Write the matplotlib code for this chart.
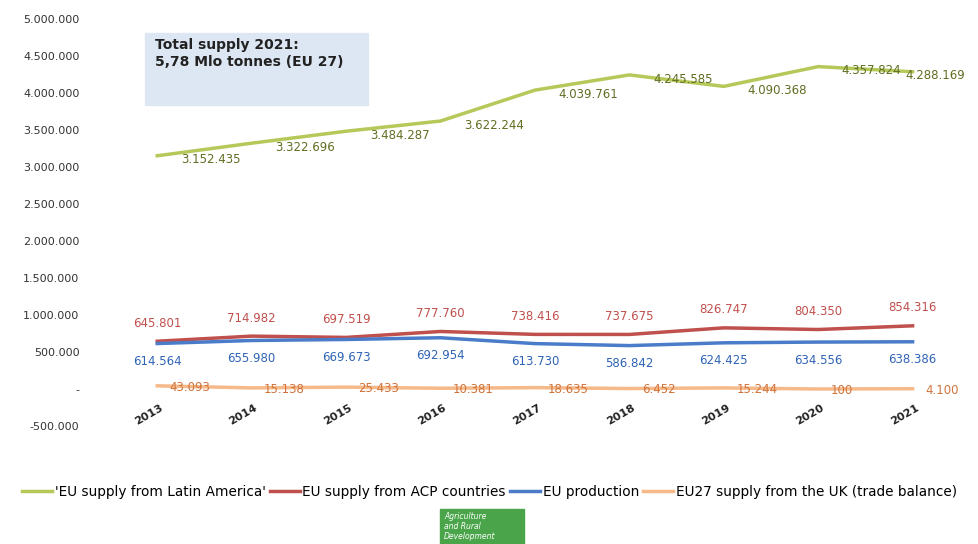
import matplotlib.pyplot as plt
from matplotlib.patches import Rectangle
from matplotlib.ticker import FuncFormatter

years = ["2013", "2014", "2015", "2016", "2017", "2018", "2019", "2020", "2021"]
latin_america = [3152435, 3322696, 3484287, 3622244, 4039761, 4245585, 4090368, 4357824, 4288169]
acp = [645801, 714982, 697519, 777760, 738416, 737675, 826747, 804350, 854316]
eu_production = [614564, 655980, 669673, 692954, 613730, 586842, 624425, 634556, 638386]
uk_balance = [43093, 15138, 25433, 10381, 18635, 6452, 15244, 100, 4100]

names = ["'EU supply from Latin America'", "EU supply from ACP countries",
         "EU production", "EU27 supply from the UK (trade balance)"]


def dots(v):
    return f"{v:,.0f}".replace(",", ".")


fig = plt.figure(figsize=(9.79, 5.44), dpi=100)
ax = fig.add_axes([0.1124, 0.2169, 0.868, 0.748])
ax.patch.set_alpha(0)
x = list(range(len(years)))

green, red, blue, orange = "#b5c95a", "#c0504d", "#4a7cc9", "#f5b98a"
ax.plot(x, latin_america, color=green, lw=2.5, label=names[0])
ax.plot(x, acp, color=red, lw=2.5, label=names[1])
ax.plot(x, eu_production, color=blue, lw=2.5, label=names[2])
ax.plot(x, uk_balance, color=orange, lw=2.5, label=names[3])

# data labels
for i in x:
    dx = 17 if i < len(x) - 1 else -5
    ax.annotate(dots(latin_america[i]), (i, latin_america[i]), xytext=(dx, -3),
                textcoords="offset points", ha="left", va="center",
                fontsize=8.5, color="#5f6e22")
    ax.annotate(dots(acp[i]), (i, acp[i]), xytext=(0, 13), textcoords="offset points",
                ha="center", va="center", fontsize=8.5, color=red)
    ax.annotate(dots(eu_production[i]), (i, eu_production[i]), xytext=(0, -13),
                textcoords="offset points", ha="center", va="center",
                fontsize=8.5, color="#2f63b6")
    ax.annotate(dots(uk_balance[i]), (i, uk_balance[i]), xytext=(9, -1),
                textcoords="offset points", ha="left", va="center",
                fontsize=8.5, color="#d0733a")

ax.set_xlim(-0.5, len(years) - 0.5)
ax.set_ylim(-500000, 5000000)
ax.set_yticks(range(-500000, 5000001, 500000))
ax.yaxis.set_major_formatter(FuncFormatter(lambda v, p: "-" if v == 0 else dots(v)))
ax.tick_params(axis="y", length=0, labelsize=8, labelcolor="#333333", pad=22)

ax.set_xticks([])
for i in x:
    ax.annotate(years[i], (i, 0), xytext=(2, -10), textcoords="offset points",
                ha="right", va="top", rotation=30, rotation_mode="anchor",
                fontsize=8, fontweight="bold", color="#222222")

for s in ax.spines.values():
    s.set_visible(False)

# total supply box
fig.add_artist(Rectangle((145 / 979, 1 - 105 / 544), 223 / 979, 72 / 544,
                         transform=fig.transFigure, color="#dde7f4", zorder=0))
fig.text(155 / 979, 1 - 38 / 544, "Total supply 2021:\n5,78 Mlo tonnes (EU 27)",
         fontsize=10, fontweight="bold", color="#222222", va="top", linespacing=1.3)

leg = fig.legend(loc="center", bbox_to_anchor=(0.5, 1 - 492 / 544), ncol=4,
                 frameon=False, fontsize=9.8, handlelength=2.2, handletextpad=0.2,
                 columnspacing=0.3)

# logo
fig.add_artist(Rectangle((440 / 979, 0), 84 / 979, 35 / 544,
                         transform=fig.transFigure, color="#4aa54a"))
fig.text(444 / 979, 32 / 544, "Agriculture\nand Rural\nDevelopment", fontsize=5.5,
         color="white", style="italic", va="top", linespacing=1.15)

plt.savefig("out.png")
